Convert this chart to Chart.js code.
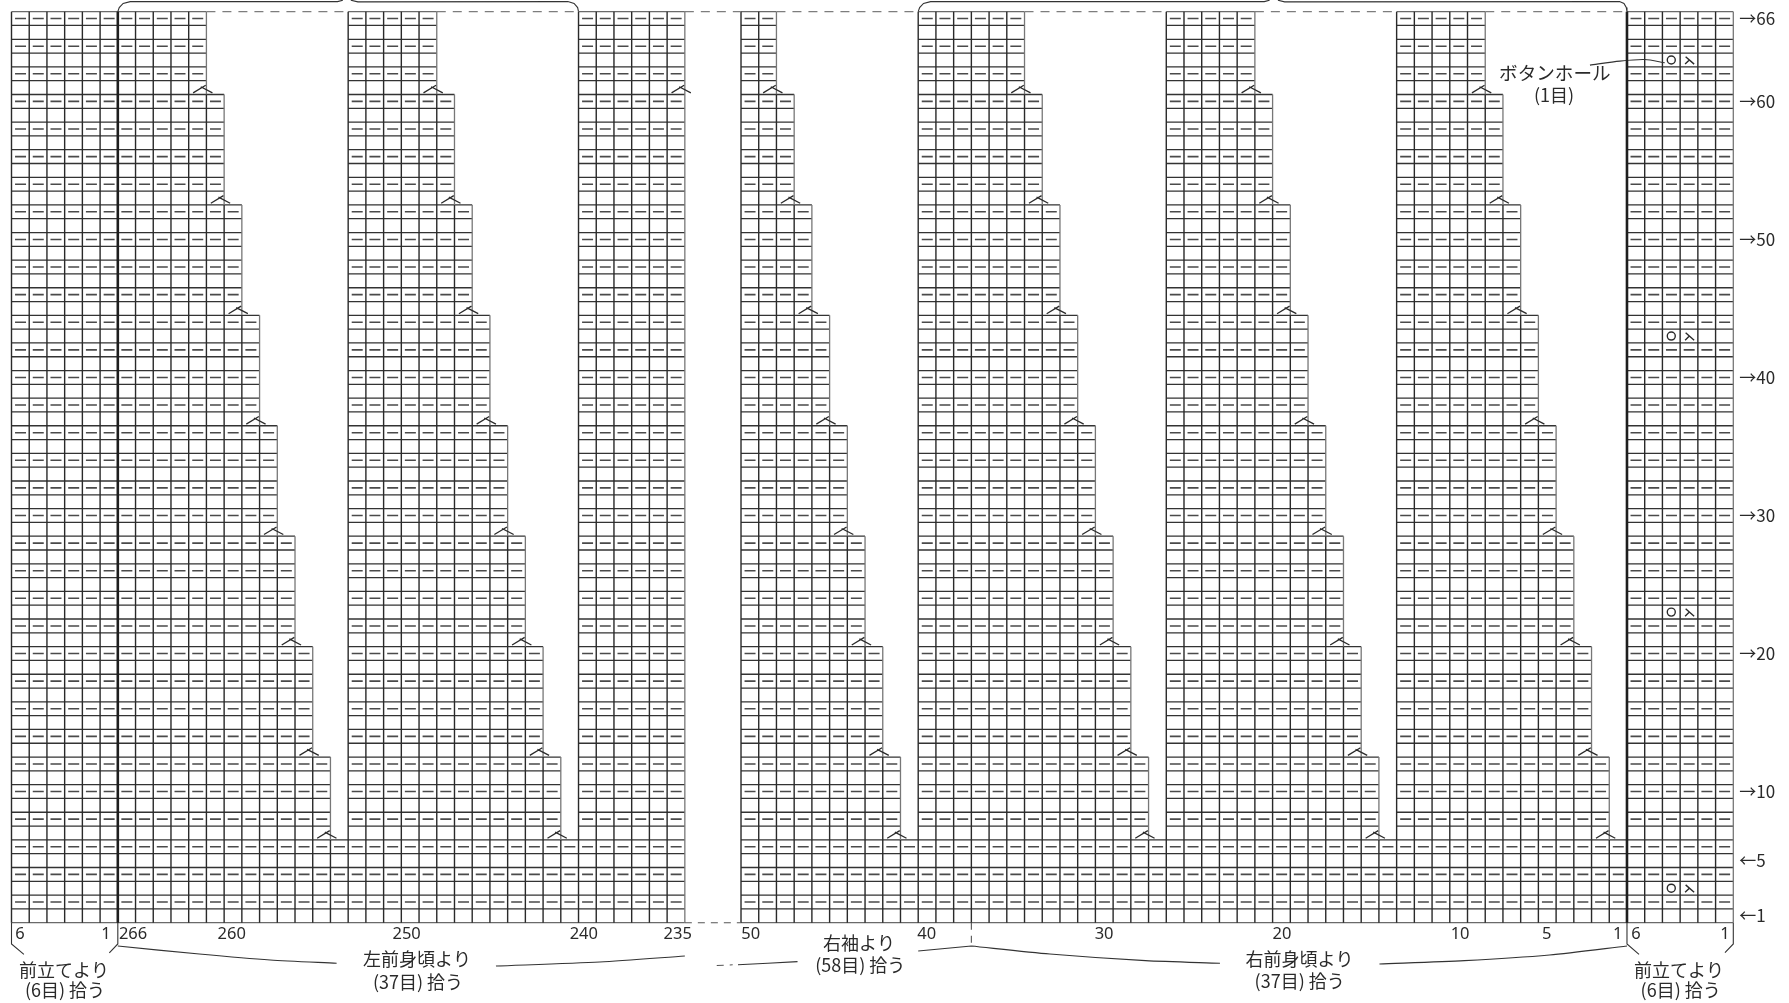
<!DOCTYPE html>
<html lang="ja">
<head>
<meta charset="utf-8">
<title>編み図</title>
<script src="https://cdn.jsdelivr.net/npm/chart.js@4"></script>
<style>
html,body{margin:0;padding:0;background:#fff;overflow:hidden}
canvas{display:block}
</style>
</head>
<body>
<canvas id="c" width="1789" height="1003"></canvas>
<script>
// ---------- chart values (columns / rows of the knitting grid) ----------
const totalRows = 66;
const totalCols = 97.17;
const leftBase = [0, 38];
const rightBase = [41.17, 97.17];
const stepRows = [60, 52, 44, 36, 28, 20, 12, 6];
const flatBaseRows = 6;

const stairStarts = [0, 19, 41.17, 51.17, 65.17, 78.17];
const stairTopEnds = [11, 24, 43.17, 57.17, 70.17, 83.17];
const flatStarts = [32, 91.17];
const flatEnds = [38, 97.17];
const extraMarkEnds = [38];

const topGapsFrom = [11, 24, 38, 43.17, 57.17, 70.17, 83.17];
const topGapsTo = [19, 32, 41.17, 51.17, 65.17, 78.17, 91.17];

const thickCols = [6, 91.17];
const buttonholeRows = [63, 43, 23, 3];
const buttonholeCircleCol = 93.67;
const buttonholeDecCol = 94.72;

const xTickCols = [0.48, 5.33, 6.86, 12.43, 22.3, 32.3, 37.6, 41.72, 51.65, 61.66, 71.7, 81.75, 86.64, 90.65, 91.68, 96.7];
const xTickLabels = ['6', '1', '266', '260', '250', '240', '235', '50', '40', '30', '20', '10', '5', '1', '6', '1'];
const rowTickRows = [0.55, 4.5, 9.5, 19.5, 29.5, 39.5, 49.5, 59.5, 65.5];
const rowTickLabels = ['←1', '←5', '→10', '→20', '→30', '→40', '→50', '→60', '→66'];

const noteTexts = ['前立てより', '(6目) 拾う', '左前身頃より', '(37目) 拾う', '右袖より', '(58目) 拾う', '右前身頃より', '(37目) 拾う', '前立てより', '(6目) 拾う', 'ボタンホール', '(1目)'];
const noteCols = [2.96, 3.02, 22.88, 22.94, 47.83, 47.9, 72.69, 72.7, 94.1, 94.2, 87.1, 87.05];
const noteRows = [-3.43, -4.87, -2.63, -4.3, -1.47, -3.06, -2.63, -4.27, -3.43, -4.87, 61.57, 59.92];

// bracket polylines, as [col,row] runs
const bottomBrackets = [
  [[0,0],[0,-1.54],[0.7,-2.3]],
  [[6,0],[6,-1.54],[5.52,-2.19]],
  [[91.17,0],[91.17,-1.54],[91.85,-2.29]],
  [[97.17,0],[97.17,-1.54],[96.7,-2.17]]
];
const bottomCurves = [
  [[6,-1.69],[10.6,-2.27],[14.6,-2.7],[18.35,-2.94]],
  [[27.34,-3.14],[33.2,-2.85],[38,-2.41]],
  [[41.0,-3.05],[44.36,-2.82]],
  [[51.17,-2.05],[54.17,-1.69]],
  [[54.17,-1.69],[58.6,-2.27],[64,-2.75],[68.2,-2.94]],
  [[77.2,-2.99],[82,-2.75],[86.8,-2.34],[91.17,-1.69]]
];
const bottomDashes = [
  [[54.17,0],[54.17,-1.69]],
  [[38,0],[41.17,0]],
  [[39.8,-3.1],[40.7,-3.05]]
];
const topBrackets = [
  [[6,66],[6.08,66.3],[6.3,66.6],[6.7,66.73],[18.4,66.73],[18.7,66.83]],
  [[19.15,66.83],[19.55,66.71],[31.4,66.73],[31.75,66.6],[31.95,66.3],[32,66]],
  [[51.17,66],[51.25,66.3],[51.47,66.6],[51.87,66.73],[70.7,66.73],[71.0,66.83]],
  [[71.47,66.83],[71.85,66.71],[90.75,66.73],[91,66.6],[91.13,66.3],[91.17,66]]
];
const leaderLine = [[89.08,62.13],[90.77,62.42],[92.18,62.53],[93.3,62.3]];

// ---------- build line runs for the library ----------
function run(points, list) {
  points.forEach(p => list.push({x: p[0], y: p[1]}));
  list.push({x: null, y: null});
}
const darkV = [], edgeV = [], darkH = [], edgeH = [], dashes = [], marks = [], thick = [], topDash = [];

function stairEndAt(top, row) { // right end of knitted row number "row"
  return top + stepRows.slice(0, 7).filter(s => s >= row).length;
}
function addMark(xe, sr) {
  run([[xe - 0.75, sr + 0.12], [xe - 0.04, sr + 0.67]], marks);
  run([[xe - 0.32, sr + 0.56], [xe + 0.34, sr + 0.12]], marks);
}
function addDashes(from, to, r) {
  for (let x = from; x < to - 1e-6; x++) run([[x + 0.2, r - 0.5], [x + 0.82, r - 0.5]], dashes);
}
for (let i = 0; i < stairStarts.length; i++) {
  const s = stairStarts[i], t = stairTopEnds[i];
  for (let x = s; x < t - 1e-6; x++) run([[x, 0], [x, totalRows]], darkV);
  run([[t, 0], [t, stepRows[0]]], darkV);
  run([[t, stepRows[0]], [t, totalRows]], edgeV);
  stepRows.forEach((sr, k) => {
    const x = t + k + 1;
    const next = stepRows[k + 1];
    if (next !== undefined) {
      run([[x, 0], [x, next]], darkV);
      run([[x, next], [x, sr]], edgeV);
    }
  });
  for (let r = flatBaseRows + 1; r <= totalRows; r++) {
    if (r < totalRows) run([[s, r], [stairEndAt(t, r), r]], darkH);
    else run([[s, r], [t, r]], edgeH);
    if (r % 2 === 0) addDashes(s, stairEndAt(t, r), r);
  }
  stepRows.forEach((sr, k) => addMark(t + k, sr));
}
for (let i = 0; i < flatStarts.length; i++) {
  const s = flatStarts[i], e = flatEnds[i];
  for (let x = s; x < e - 1e-6; x++) run([[x, 0], [x, totalRows]], darkV);
  run([[e, 0], [e, totalRows]], edgeV);
  for (let r = flatBaseRows + 1; r <= totalRows; r++) {
    run([[s, r], [e, r]], r === totalRows ? edgeH : darkH);
    if (r % 2 === 0) addDashes(s, e, r);
  }
}
extraMarkEnds.forEach(xe => addMark(xe, stepRows[0]));
[leftBase, rightBase].forEach(b => {
  for (let r = 0; r <= flatBaseRows; r++) {
    run([[b[0], r], [b[1], r]], r === 0 ? edgeH : darkH);
    if (r % 2 === 0 && r > 0) addDashes(b[0], b[1], r);
  }
});
thickCols.forEach(x => run([[x, 0], [x, totalRows]], thick));
topGapsFrom.forEach((f, i) => run([[f, totalRows], [topGapsTo[i], totalRows]], topDash));

const brackets = [];
bottomBrackets.forEach(b => run(b, brackets));
topBrackets.forEach(b => run(b, brackets));
const curves = [];
bottomCurves.forEach(b => run(b, curves));
run(leaderLine, curves);
const dashedNotes = [];
bottomDashes.forEach(b => run(b, dashedNotes));

const holeCircles = buttonholeRows.map(r => ({x: buttonholeCircleCol, y: r - 0.5}));
const holeDecs = [];
buttonholeRows.forEach(r => {
  const y = r - 0.5;
  run([[buttonholeDecCol - 0.24, y + 0.24], [buttonholeDecCol + 0.24, y - 0.3]], holeDecs);
  run([[buttonholeDecCol - 0.03, y], [buttonholeDecCol - 0.27, y - 0.3]], holeDecs);
});

function lineSet(label, data, color, width, extra) {
  return Object.assign({
    label, data, showLine: true, borderColor: color, borderWidth: width,
    pointRadius: 0, pointHoverRadius: 0, clip: false, spanGaps: false, tension: 0, fill: false
  }, extra || {});
}

const notePlugin = {
  id: 'notes',
  afterDatasetsDraw(chart) {
    const {ctx, scales: {x, y}} = chart;
    ctx.save();
    ctx.fillStyle = '#2a2a2a';
    ctx.textAlign = 'center';
    ctx.textBaseline = 'middle';
    noteTexts.forEach((t, i) => {
      ctx.font = (t === 'ボタンホール' ? '18.6px' : '18px') + ' "Noto Sans CJK JP"';
      ctx.fillText(t, x.getPixelForValue(noteCols[i]), y.getPixelForValue(noteRows[i]));
    });
    ctx.restore();
  }
};
function noMargins(a) { a.paddingLeft = a.paddingRight = a.paddingTop = a.paddingBottom = 0; }

new Chart(document.getElementById('c'), {
  type: 'scatter',
  data: {
    datasets: [
      lineSet('太線', thick, '#1e1e1e', 2.6),
      lineSet('増減', marks, '#2a2a2a', 1.3),
      lineSet('穴', holeDecs, '#2a2a2a', 1.4),
      {label: 'かけ目', data: holeCircles, showLine: false, pointRadius: 4, pointBorderWidth: 1.4,
       pointBorderColor: '#2a2a2a', pointBackgroundColor: '#fff', clip: false},
      lineSet('括弧', brackets, '#333', 1.1),
      lineSet('曲線', curves, '#333', 1.1, {tension: 0.25}),
      lineSet('破線', dashedNotes, '#555', 1.1, {borderDash: [7, 6]}),
      lineSet('上辺破線', topDash, '#7d7d7d', 1.4, {borderDash: [9, 7]}),
      lineSet('裏目', dashes, '#4a4a4a', 1.6),
      lineSet('縦線', darkV, '#2a2a2a', 1.4),
      lineSet('端線', edgeV, '#777', 1.3),
      lineSet('横線', darkH, '#333', 1.3),
      lineSet('外枠', edgeH, '#6a6a6a', 1.3)
    ]
  },
  options: {
    responsive: false,
    animation: false,
    devicePixelRatio: 1,
    layout: {padding: {left: 11.5, top: 11.67, right: 0, bottom: 0}},
    plugins: {legend: {display: false}, tooltip: {enabled: false}},
    events: [],
    scales: {
      x: {
        type: 'linear', position: 'bottom', min: 0, max: totalCols,
        grid: {display: false, drawTicks: false}, border: {display: false},
        afterBuildTicks(a) { a.ticks = xTickCols.map(v => ({value: v})); },
        afterFit(a) { a.height = 80.3; noMargins(a); },
        ticks: {
          autoSkip: false, maxRotation: 0, minRotation: 0, padding: 2, color: '#2a2a2a',
          font: {family: '"Noto Sans"', size: 16.5},
          callback: (v, i) => xTickLabels[i]
        }
      },
      y: {
        type: 'linear', position: 'right', min: 0, max: totalRows,
        grid: {display: false, drawTicks: false}, border: {display: false},
        afterBuildTicks(a) { a.ticks = rowTickRows.map(v => ({value: v})); },
        afterFit(a) { a.width = 55.7; noMargins(a); },
        ticks: {
          autoSkip: false, padding: 6, color: '#2a2a2a',
          font: {family: '"Noto Sans CJK JP"', size: 17},
          callback: (v, i) => rowTickLabels[i]
        }
      }
    }
  },
  plugins: [notePlugin]
});
</script>
</body>
</html>
